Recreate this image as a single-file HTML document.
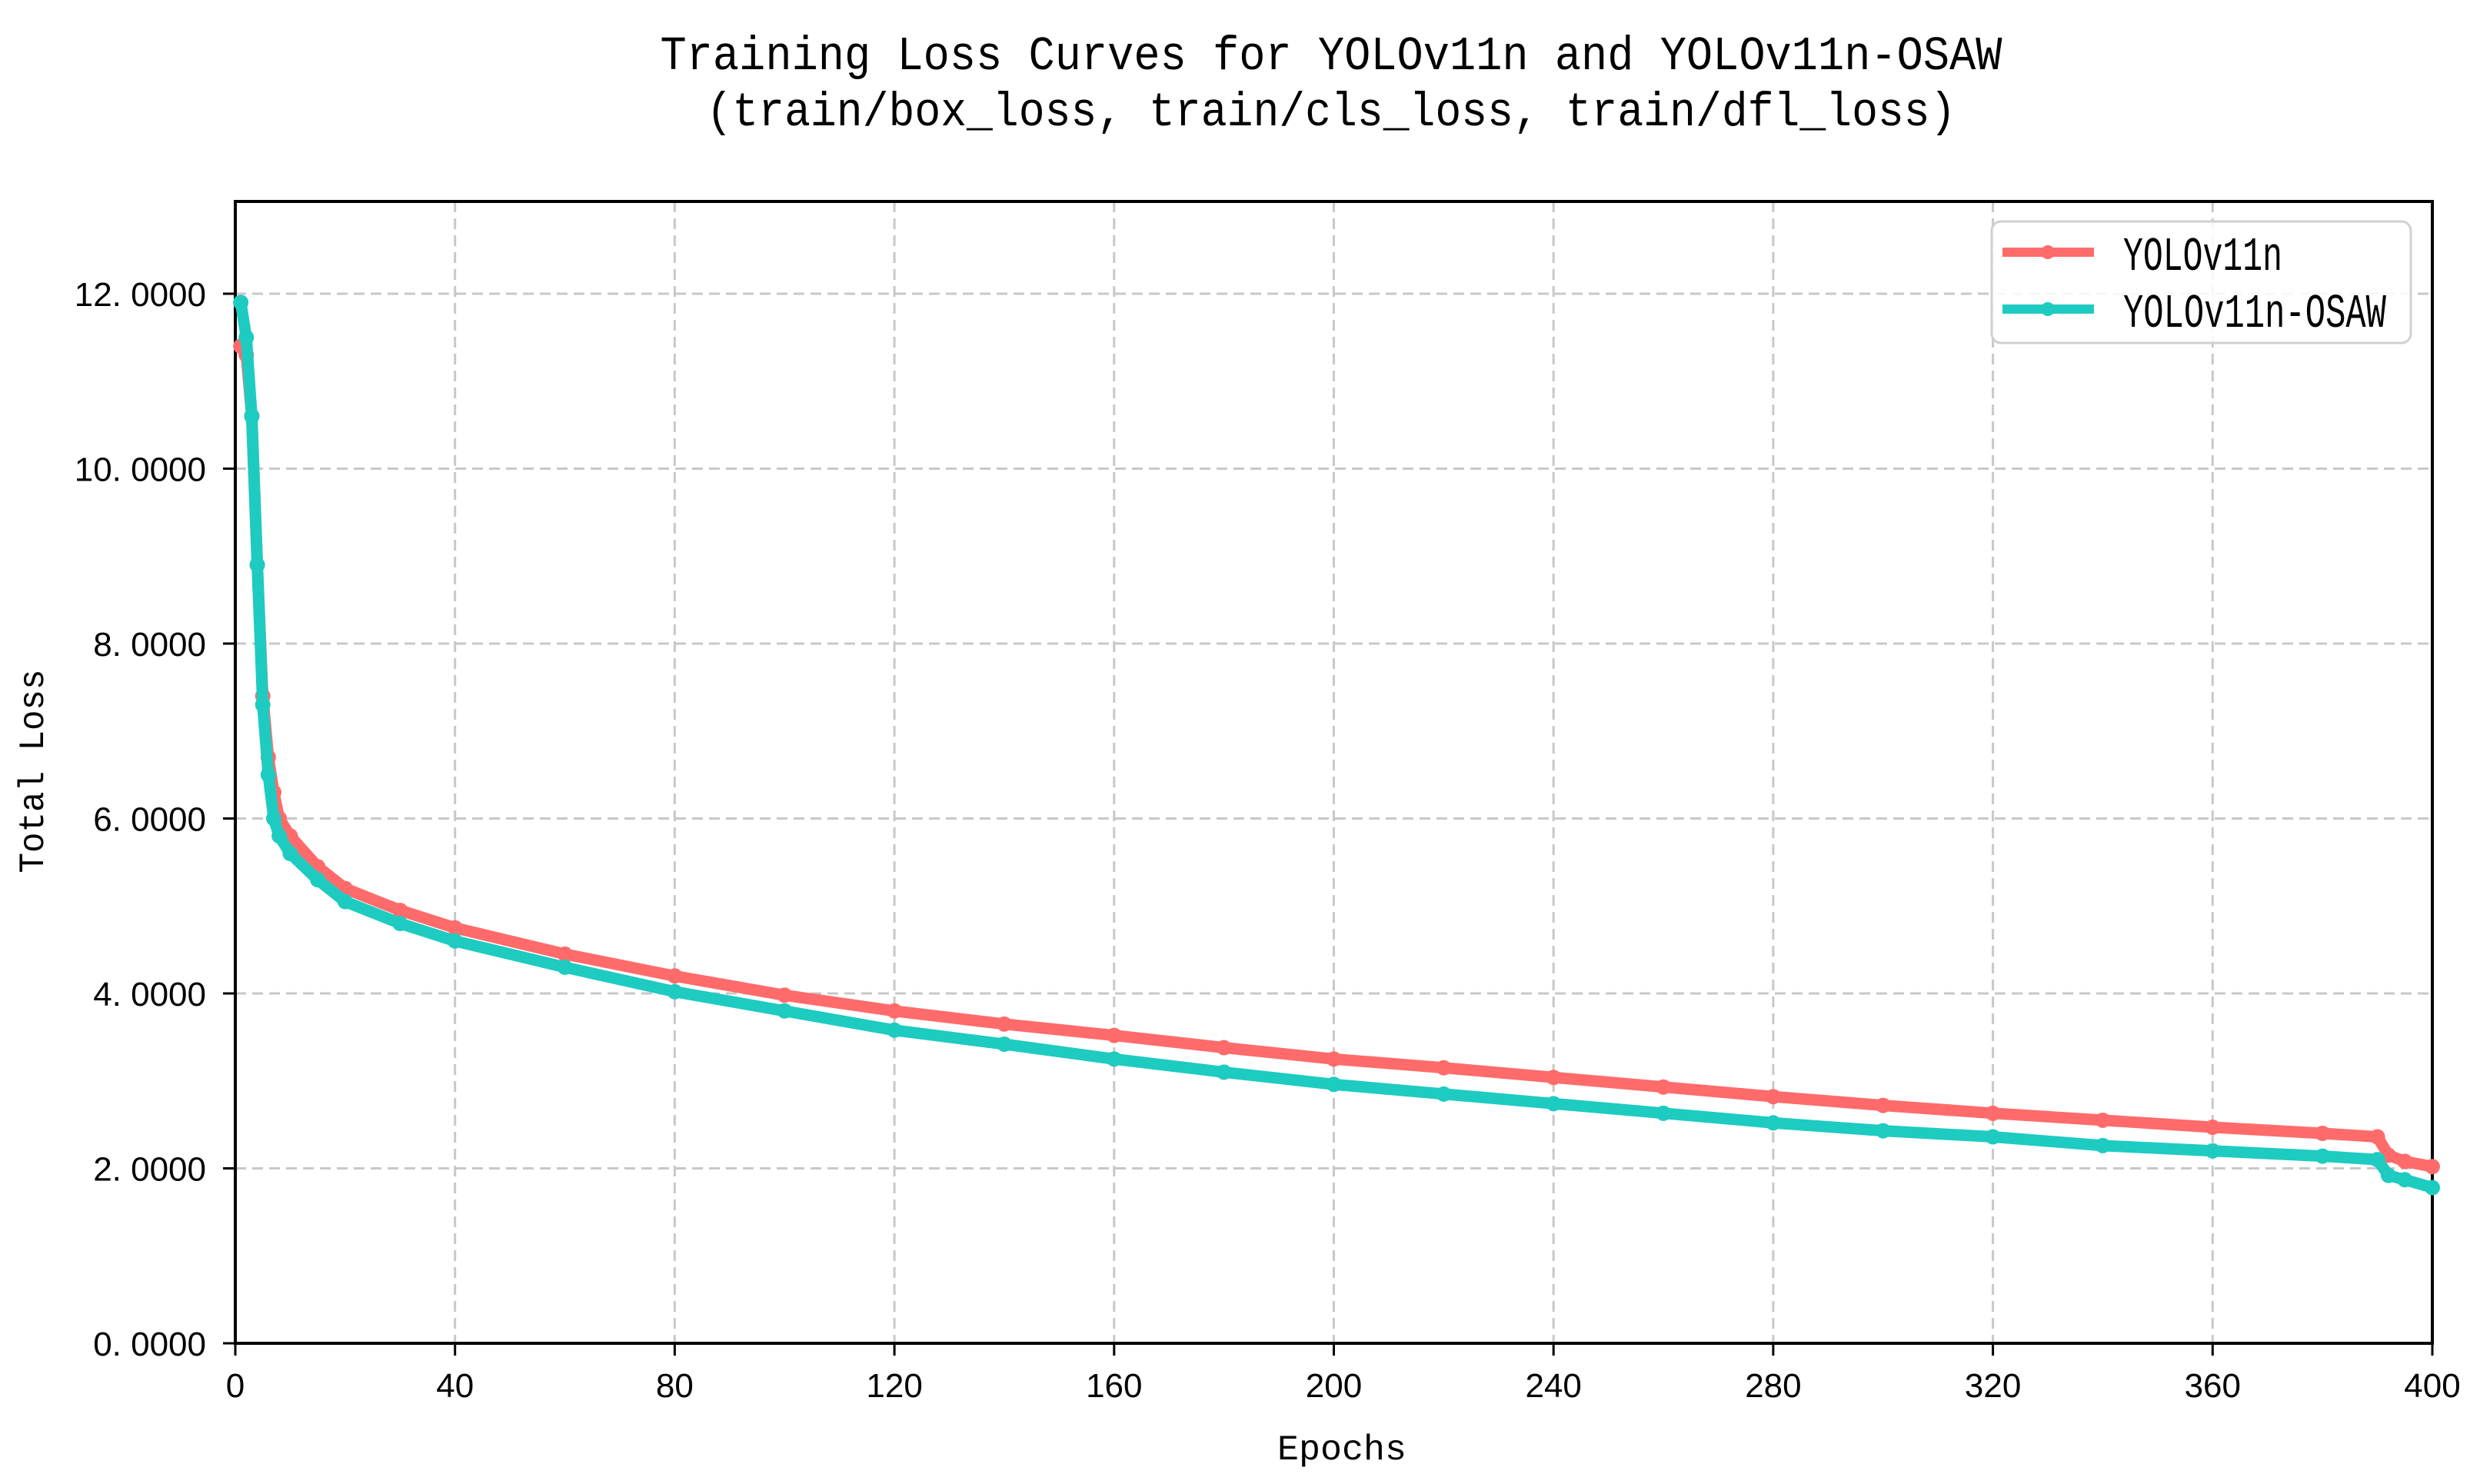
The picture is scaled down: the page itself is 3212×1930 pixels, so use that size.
<!DOCTYPE html>
<html><head><meta charset="utf-8"><style>
html,body{margin:0;padding:0;background:#fff;}
svg{display:block;font-family:"Liberation Mono","Noto Sans CJK SC",monospace;}
</style></head><body>
<svg id="chart" width="3212" height="1930" viewBox="0 0 3212 1930" xmlns="http://www.w3.org/2000/svg">
<text x="1731" y="90" font-size="62" text-anchor="middle" textLength="1745" lengthAdjust="spacingAndGlyphs">Training Loss Curves for YOLOv11n and YOLOv11n-OSAW</text>
<text x="1731" y="163" font-size="62" text-anchor="middle" textLength="1625" lengthAdjust="spacingAndGlyphs">(train/box_loss, train/cls_loss, train/dfl_loss)</text>
<g id="grid"></g>
<g id="axes"></g>
<g id="series"></g>
<text x="1745" y="1898" font-size="46" text-anchor="middle" textLength="168" lengthAdjust="spacingAndGlyphs">Epochs</text>
<text transform="translate(56,1003) rotate(-90)" font-size="46" text-anchor="middle" textLength="265" lengthAdjust="spacingAndGlyphs">Total Loss</text>
<g>
<rect x="2590" y="288" width="545" height="158" rx="12" fill="#fff" fill-opacity="0.85" stroke="#d0d0d0" stroke-width="3"/>
<line x1="2604" y1="328" x2="2723" y2="328" stroke="#FF6B6B" stroke-width="12"/>
<circle cx="2663" cy="328" r="9" fill="#FF6B6B"/>
<text x="2761" y="351" font-size="62" textLength="207" lengthAdjust="spacingAndGlyphs">YOLOv11n</text>
<line x1="2604" y1="402" x2="2723" y2="402" stroke="#1ECBC1" stroke-width="12"/>
<circle cx="2663" cy="402" r="9" fill="#1ECBC1"/>
<text x="2761" y="425" font-size="62" textLength="342" lengthAdjust="spacingAndGlyphs">YOLOv11n-OSAW</text>
</g>
</svg>
<script>
const epochs = [1,2,3,4,5,6,7,8,10,15,20,30,40,60,80,100,120,140,160,180,200,220,240,260,280,300,320,340,360,380,390,392,395,400];
const yoloLoss = [11.4,11.3,10.6,8.9,7.4,6.7,6.3,6.0,5.8,5.45,5.2,4.95,4.75,4.45,4.2,3.98,3.8,3.65,3.52,3.38,3.25,3.15,3.04,2.93,2.82,2.72,2.63,2.55,2.47,2.4,2.36,2.15,2.08,2.02];
const osawLoss = [11.9,11.5,10.6,8.9,7.3,6.5,6.0,5.8,5.6,5.3,5.05,4.8,4.6,4.3,4.02,3.8,3.58,3.42,3.25,3.1,2.96,2.85,2.74,2.63,2.52,2.43,2.36,2.26,2.2,2.14,2.1,1.92,1.87,1.78];
const xTicks = [0,40,80,120,160,200,240,280,320,360,400];
const yTicks = [0,2,4,6,8,10,12];

const L=306,R=3163,T=262,B=1747;
const xs=v=>L+(v/400)*(R-L);
const ys=v=>B-(v/12)*(B-382);
const NS='http://www.w3.org/2000/svg';
function mk(tag,attrs,parent){const e=document.createElementNS(NS,tag);for(const k in attrs)e.setAttribute(k,attrs[k]);parent.appendChild(e);return e;}
const grid=document.getElementById('grid'),axes=document.getElementById('axes'),series=document.getElementById('series');
xTicks.forEach(t=>{
  const x=xs(t);
  if(t>0&&t<400){const g=mk('line',{x1:x,y1:T,x2:x,y2:B,stroke:'#c8c8c8','stroke-width':3,'stroke-dasharray':'14 8'},grid);
  
  }
  const tk=mk('line',{x1:x,y1:B,x2:x,y2:B+16,stroke:'#000','stroke-width':3},axes);
  
  
  const lb=mk('text',{x:x,y:B+70,'font-size':44,'text-anchor':'middle','font-family':'Liberation Sans, sans-serif'},axes);
  lb.textContent=t;
  
  
});
yTicks.forEach(t=>{
  const y=ys(t);
  if(t>0){const g=mk('line',{x1:L,y1:y,x2:R,y2:y,stroke:'#c8c8c8','stroke-width':3,'stroke-dasharray':'14 8'},grid);
  
  }
  const tk=mk('line',{x1:L-16,y1:y,x2:L,y2:y,stroke:'#000','stroke-width':3},axes);
  
  
  const lb=mk('text',{x:L-38,y:y+16,'font-size':44,'text-anchor':'end','font-family':'Liberation Sans, sans-serif'},axes);
  lb.textContent=t.toFixed(0)+'. 0000';
  
  
});
const frame=mk('rect',{x:L,y:T,width:R-L,height:B-T,fill:'none',stroke:'#000','stroke-width':4},axes);


function draw(vals,color,name){
  const d=epochs.map((e,i)=>(i?'L':'M')+xs(e).toFixed(1)+','+ys(vals[i]).toFixed(1)).join(' ');
  const p=mk('path',{d:d,fill:'none',stroke:color,'stroke-width':15,'stroke-linejoin':'round','stroke-linecap':'round'},series);
  
  
  epochs.forEach((e,i)=>{
    const c=mk('circle',{cx:xs(e),cy:ys(vals[i]),r:10,fill:color},series);
    
    
  });
}
draw(yoloLoss,'#FF6B6B','yolov11n');
draw(osawLoss,'#1ECBC1','yolov11n-osaw');
</script>
</body></html>
